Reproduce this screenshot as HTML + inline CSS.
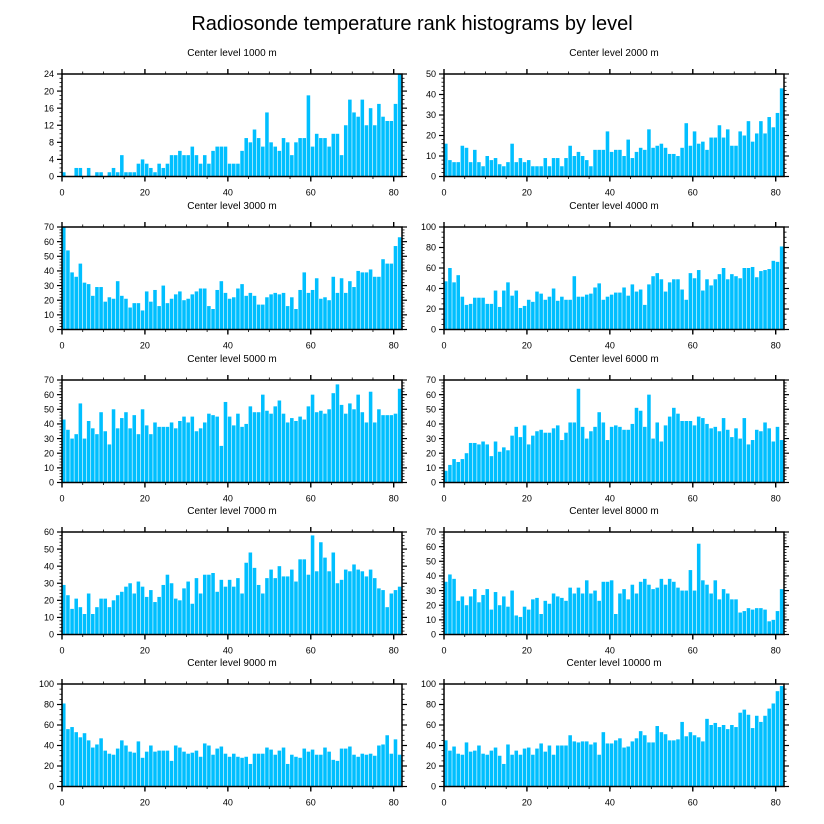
<!DOCTYPE html>
<html><head><meta charset="utf-8"><style>
html,body{margin:0;padding:0;background:#fff;}
svg{display:block;font-family:"Liberation Sans",sans-serif;}
</style></head><body>
<svg id="chart" width="824" height="824" viewBox="0 0 824 824" xmlns="http://www.w3.org/2000/svg">
<text x="412" y="30" font-size="20" text-anchor="middle" fill="#000">Radiosonde temperature rank histograms by level</text>
</svg>
<script>
const levels = ["1000","2000","3000","4000","5000","6000","7000","8000","9000","10000"];
const yMaxes = [24,50,70,100,70,70,60,70,100,100];
const yStepsMajor = [4,10,10,20,10,10,10,10,20,20];
const xTicks = [0,20,40,60,80];
const v1000 = [1,0,0,2,2,0,2,0,1,1,0,1,2,1,5,1,1,1,3,4,3,2,1,3,2,3,5,5,6,5,5,7,5,3,5,3,6,7,7,7,3,3,3,6,9,8,11,9,7,15,8,7,6,9,8,5,8,9,9,19,7,10,9,9,7,10,10,5,12,18,15,14,18,12,16,12,17,14,13,13,17,24];
const v2000 = [16,8,7,7,15,14,7,13,7,5,10,8,9,6,5,7,16,7,9,7,8,5,5,5,9,5,9,9,5,9,15,10,12,10,8,5,13,13,13,22,12,13,13,10,18,9,12,14,13,23,14,15,16,14,11,11,10,14,26,15,22,16,17,13,19,19,25,19,23,15,15,22,20,27,17,21,27,21,29,24,31,43];
const v3000 = [70,54,39,36,45,32,31,23,29,29,19,22,21,33,23,21,15,18,18,13,26,19,27,16,30,18,21,24,26,20,21,24,26,28,28,16,14,27,33,25,21,22,28,31,23,25,23,17,17,22,24,25,24,25,16,22,14,27,39,25,27,35,21,22,20,36,25,35,25,33,29,40,39,39,41,36,36,48,45,45,57,63];
const v4000 = [47,60,46,53,32,24,25,31,31,31,25,25,38,22,38,46,33,38,21,23,29,27,37,35,29,32,40,28,32,29,29,52,32,32,34,35,41,45,29,32,34,36,36,41,33,44,37,39,24,44,52,55,49,37,46,49,49,39,29,55,50,58,38,49,43,49,54,60,49,54,52,50,60,60,61,51,57,58,59,67,66,81];
const v5000 = [43,36,30,33,54,30,42,37,33,48,35,26,50,37,44,48,37,46,33,50,39,33,41,38,38,38,41,37,42,45,41,45,35,37,41,47,46,45,25,55,45,39,47,38,40,52,48,48,60,49,47,52,56,47,41,44,42,45,43,52,60,48,49,47,50,61,67,53,47,54,50,60,48,41,62,41,50,46,46,46,47,64];
const v6000 = [8,12,16,14,16,20,27,27,26,28,26,18,28,21,24,22,32,38,31,39,26,32,35,36,34,34,37,39,29,34,41,41,64,38,30,35,38,48,41,29,38,39,38,36,36,40,51,49,38,60,30,41,28,39,45,51,47,42,42,42,39,45,44,40,37,38,35,44,36,31,37,30,44,26,29,36,35,41,37,28,38,29];
const v7000 = [29,23,15,21,16,12,24,12,16,21,21,16,20,23,25,28,30,24,31,28,22,26,19,22,29,35,30,21,20,27,31,18,33,24,35,35,36,25,32,28,32,28,33,24,42,48,39,29,24,33,38,33,40,34,34,38,31,44,44,35,58,37,54,45,37,48,30,32,38,37,41,38,37,34,38,33,27,26,16,24,26,28];
const v8000 = [36,41,38,23,26,20,26,31,22,27,31,17,29,20,26,19,30,13,12,19,17,24,25,14,23,21,28,26,25,23,32,28,32,28,37,28,30,23,36,36,37,14,28,31,24,34,28,36,38,34,31,32,38,34,38,36,32,30,30,44,30,62,37,34,28,37,24,31,28,24,24,15,16,18,17,18,18,17,9,10,16,31];
const v9000 = [81,56,58,53,48,52,45,38,41,47,35,32,31,37,45,40,34,33,44,28,34,40,34,35,35,35,25,40,38,34,32,33,35,29,42,40,31,37,39,32,29,32,29,28,29,22,32,32,32,38,36,31,35,38,22,31,29,28,37,34,36,31,31,38,34,26,25,37,37,39,31,29,32,31,32,30,40,41,50,32,46,31];
const v10000 = [45,35,39,32,31,43,34,35,40,32,31,35,38,30,22,41,31,35,31,37,38,31,37,42,34,40,31,40,40,40,50,44,43,44,44,41,43,31,53,42,42,45,47,38,39,44,47,54,50,43,43,59,53,51,45,45,46,63,49,53,50,48,44,66,60,62,58,60,56,60,58,72,75,70,57,69,63,69,76,81,93,98];
const seriesList = [v1000,v2000,v3000,v4000,v5000,v6000,v7000,v8000,v9000,v10000];

const NS = "http://www.w3.org/2000/svg";
const svg = document.getElementById("chart");
function mk(tag, attrs, parent){const e=document.createElementNS(NS,tag);for(const k in attrs)e.setAttribute(k,attrs[k]);(parent||svg).appendChild(e);return e;}

const colX = [62, 444];
const rowY = [74, 227, 380, 532, 684];
const PW = 340, PH = 102.5, XMAX = 82;

seriesList.forEach((vals, p) => {
  const left = colX[p % 2], top = rowY[Math.floor(p / 2)];
  const bottom = top + PH, right = left + PW;
  const yMax = yMaxes[p], step = yStepsMajor[p];
  const xs = v => left + v / XMAX * PW;
  const ys = v => bottom - Math.min(v, yMax) / yMax * PH;
  const g = mk("g", {});
  
  
  const t = mk("text", {x: left + PW / 2, y: top - 18, "font-size": 10, "text-anchor": "middle", fill: "#000"}, g);
  t.textContent = "Center level " + levels[p] + " m";
  
  
  vals.forEach((v, i) => {
    const x0 = xs(i), x1 = xs(i + 1);
    const r = mk("rect", {x: x0, y: ys(v), width: Math.max(0, x1 - x0 - 0.6), height: bottom - ys(v), fill: "#00bfff"}, g);
    
    
  });
  const tk = mk("g", {stroke: "#000", "stroke-width": 1}, g);
  
  
  for (let xv = 0; xv <= XMAX; xv += 5) {
    const major = xv % 20 === 0, L = major ? 5 : 2.5, x = xs(xv);
    mk("line", {x1: x, x2: x, y1: bottom, y2: bottom + L, "stroke-width": major ? 1.4 : 0.8}, tk);
    mk("line", {x1: x, x2: x, y1: top, y2: top - L, "stroke-width": major ? 1.4 : 0.8}, tk);
  }
  const minor = step / (step === 10 ? 5 : 4);
  for (let yv = 0; yv <= yMax + 1e-9; yv += minor) {
    const major = Math.abs(yv / step - Math.round(yv / step)) < 1e-6, L = major ? 5 : 2.5, y = ys(yv);
    mk("line", {x1: left, x2: left - L, y1: y, y2: y, "stroke-width": major ? 1.2 : 0.8}, tk);
    mk("line", {x1: right, x2: right + L, y1: y, y2: y, "stroke-width": major ? 1.2 : 0.8}, tk);
  }
  const fr = mk("rect", {x: left, y: top, width: PW, height: PH, fill: "none", stroke: "#000", "stroke-width": 1.5}, g);
  
  
  xTicks.forEach(xv => {
    const l = mk("text", {x: xs(xv), y: bottom + 19, "font-size": 9, "text-anchor": "middle", fill: "#000"}, g);
    l.textContent = xv;
    
    
  });
  for (let yv = 0; yv <= yMax; yv += step) {
    const l = mk("text", {x: left - 8, y: ys(yv) + 3.2, "font-size": 9, "text-anchor": "end", fill: "#000"}, g);
    l.textContent = yv;
    
    
  }
});
</script>
</body></html>
